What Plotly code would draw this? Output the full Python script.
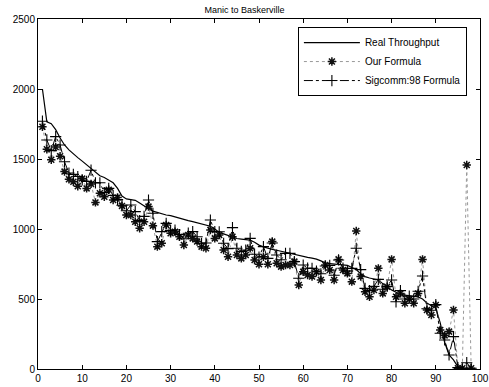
import plotly.graph_objects as go

x_vals = list(range(1, 99))

real_throughput = [
    2000, 1765, 1752, 1710, 1650, 1600, 1565, 1535, 1510, 1485,
    1460, 1433, 1405, 1380, 1368, 1350, 1330, 1290, 1235, 1215,
    1210, 1205, 1185, 1162, 1145, 1128, 1118, 1108, 1100, 1095,
    1085, 1078, 1070, 1060, 1053, 1045, 1038, 1030, 1020, 1000,
    975, 965, 955, 940, 932, 928, 924, 920, 905, 885,
    872, 862, 855, 848, 840, 833, 826, 818, 808, 802,
    797, 792, 785, 772, 758, 752, 748, 745, 743, 740,
    725, 710, 680, 660, 650, 642, 636, 610, 585, 565,
    548, 535, 528, 522, 518, 515, 500, 472, 452, 435,
    330, 190, 100, 65, 15, 0, 0, 0,
]

our_formula = [
    1730, 1570, 1495, 1585, 1520, 1410, 1355, 1338, 1305, 1360,
    1290, 1322, 1190, 1255, 1230, 1280, 1207, 1225, 1165, 1100,
    1100, 1052, 1005, 1052, 1160, 1024, 874, 898, 1029, 969,
    981, 945, 886, 957, 933, 910, 874, 862, 993, 933,
    957, 850, 802, 945, 814, 790, 814, 862, 779, 748,
    802, 748, 910, 755, 731, 743, 743, 767, 600, 695,
    671, 660, 695, 636, 743, 707, 636, 783, 707, 683,
    624, 986, 660, 552, 516, 564, 719, 540, 588, 783,
    516, 540, 469, 498, 469, 540, 783, 421, 386, 457,
    279, 240, 267, 421, 5, 5, 1457, 5,
]

sigcomm_formula = [
    1770, 1636, 1560, 1660, 1600, 1480, 1400, 1390, 1375, 1350,
    1340, 1420, 1330, 1330, 1260, 1290, 1240, 1210, 1170, 1130,
    1171, 1124, 1060, 1090, 1207, 1112, 910, 981, 1040, 990,
    993, 960, 930, 970, 981, 945, 898, 900, 1064, 981,
    980, 898, 860, 1010, 862, 840, 850, 933, 820, 800,
    874, 790, 900, 814, 780, 826, 826, 767, 648, 743,
    720, 719, 700, 680, 736, 740, 670, 779, 720, 700,
    719, 862, 710, 576, 560, 590, 640, 570, 590, 636,
    480, 560, 500, 520, 500, 555, 664, 430, 420, 460,
    255, 207, 100, 231, 10, 5, 45, 5,
]

x_ticks = [0, 10, 20, 30, 40, 50, 60, 70, 80, 90, 100]
y_ticks = [0, 500, 1000, 1500, 2000, 2500]

fig = go.Figure()

fig.add_trace(go.Scatter(
    x=x_vals, y=real_throughput, name="Real Throughput",
    mode="lines", line=dict(color="black", width=1.2),
))
fig.add_trace(go.Scatter(
    x=x_vals, y=our_formula, name="Our Formula",
    mode="lines+markers",
    line=dict(color="#999999", width=1, dash="dot"),
    marker=dict(symbol="asterisk-open", size=7, color="#111111",
                line=dict(color="#111111", width=1.5)),
))
fig.add_trace(go.Scatter(
    x=x_vals, y=sigcomm_formula, name="Sigcomm:98 Formula",
    mode="lines+markers",
    line=dict(color="black", width=1, dash="dashdot"),
    marker=dict(symbol="cross-thin-open", size=8, color="black",
                line=dict(color="black", width=1.1)),
))

axis_common = dict(
    showgrid=False, showline=True, linecolor="black", linewidth=1,
    mirror="ticks", ticks="inside", ticklen=4, tickcolor="black",
    automargin=False,
    tickfont=dict(family="Liberation Sans, Arial, sans-serif", size=10, color="black"),
)

fig.update_layout(
    width=489, height=387,
    margin=dict(l=38, r=9, t=19, b=18),
    plot_bgcolor="white", paper_bgcolor="white",
    title=dict(text="Manic to Baskerville", x=0.5, xanchor="center",
               y=0.974, yanchor="middle",
               font=dict(family="Liberation Sans, Arial, sans-serif", size=9, color="black")),
    xaxis=dict(range=[0, 100], tickvals=x_ticks, **axis_common),
    yaxis=dict(range=[0, 2500], tickvals=y_ticks, zeroline=True,
               zerolinecolor="black", zerolinewidth=2.5, **axis_common),
    legend=dict(x=0.588, y=0.977, xanchor="left", yanchor="top",
                bgcolor="white", bordercolor="black", borderwidth=1,
                font=dict(family="Liberation Sans, Arial, sans-serif", size=10, color="black"),
                tracegroupgap=0, itemwidth=56),
    showlegend=True,
)

fig.write_html("out.html")
